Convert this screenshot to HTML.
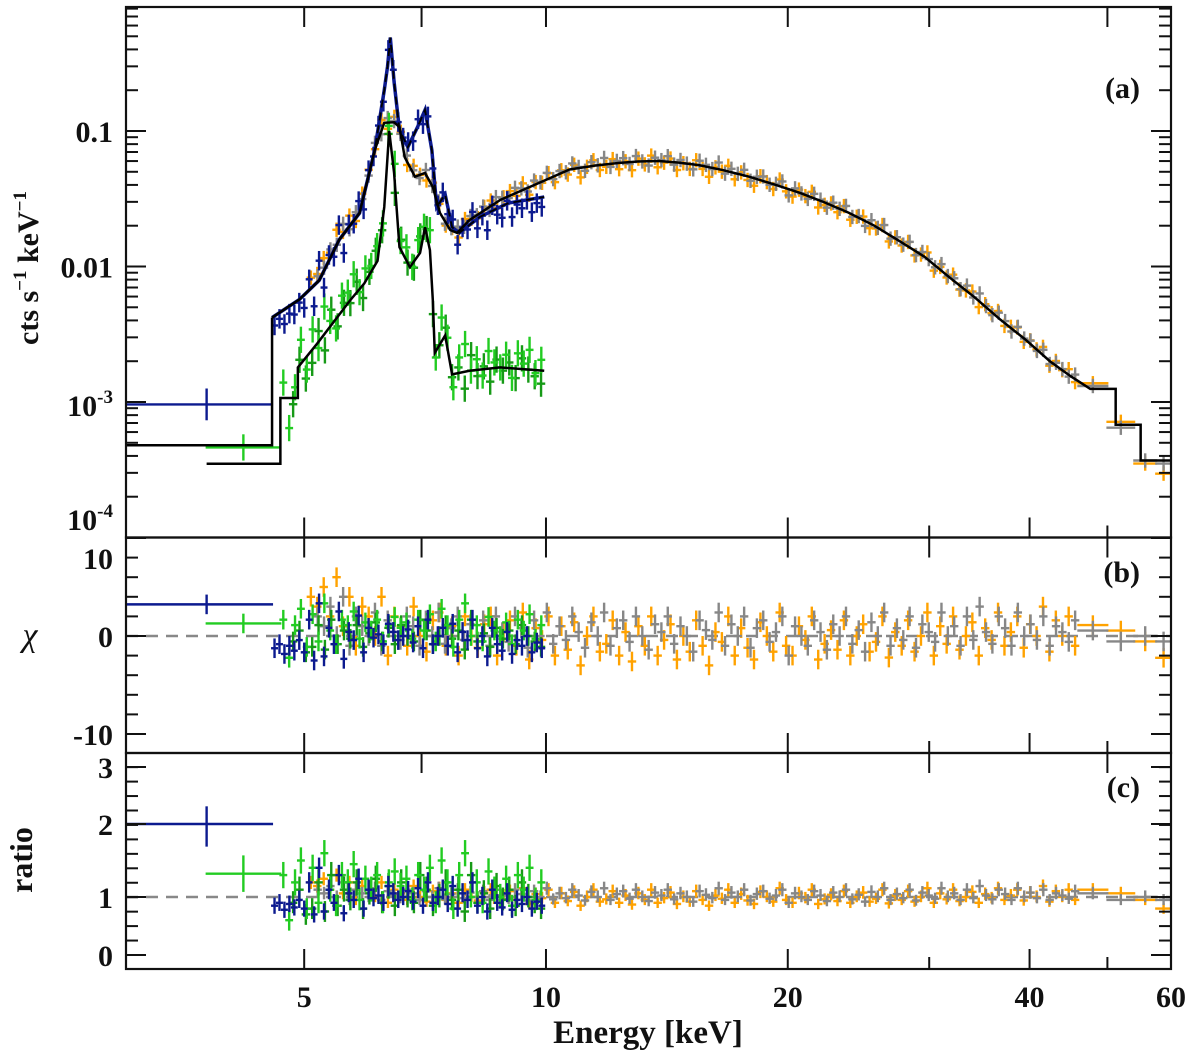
<!DOCTYPE html>
<html><head><meta charset="utf-8"><style>
html,body{margin:0;padding:0;background:#fff}
svg{display:block;font-family:"Liberation Serif","DejaVu Serif",serif;font-weight:bold}
</style></head><body>
<svg id="chart" width="1200" height="1057" viewBox="0 0 1200 1057" xmlns="http://www.w3.org/2000/svg">
<g id="layer-dash"></g>
<g id="layer-data"></g>
<g id="layer-model"></g>
<g id="layer-axes"></g>
<g fill="#111">
  <text x="648" y="1043" font-size="33" text-anchor="middle">Energy [keV]</text>
  <text transform="translate(38,268) rotate(-90)" font-size="30" text-anchor="middle">cts s<tspan font-size="19" dy="-12">−1</tspan><tspan dy="12"> keV</tspan><tspan font-size="19" dy="-12">−1</tspan></text>
  <text x="30" y="646" font-size="34" font-style="italic" font-weight="normal" text-anchor="middle">χ</text>
  <text transform="translate(32,860) rotate(-90)" font-size="32" text-anchor="middle">ratio</text>
  <text x="1140" y="98" font-size="30" text-anchor="end">(a)</text>
  <text x="1140" y="582" font-size="30" text-anchor="end">(b)</text>
  <text x="1140" y="797" font-size="30" text-anchor="end">(c)</text>
</g>
</svg>
<script>
// ---- model curves (energy keV, counts) ----
const blueModelE=[3,4.56,4.56,4.93,5.22,5.53,5.86,6.12,6.29,6.35,6.40,6.47,6.57,6.73,6.92,7.07,7.21,7.31,7.49,7.64,7.80,8.27,8.98,9.95];
const blueModelV=[4.8e-4,4.8e-4,4.2e-3,5.7e-3,7.9e-3,0.0158,0.0248,0.072,0.2,0.30,0.49,0.23,0.102,0.076,0.107,0.143,0.072,0.0275,0.034,0.0195,0.0177,0.0232,0.0294,0.0326];
const greyModelE=[4.56,4.93,5.22,5.53,5.86,6.12,6.29,6.47,6.57,6.67,6.87,7.07,7.23,7.38,7.60,7.75,8.03,8.77,9.95,10.7,11.5,12.3,13.0,13.8,14.6,15.5,16.6,17.9,19.2,20.7,22.2,23.8,25.6,27.5,29.6,31.8,34.2,36.7,39.5,42.4,45.0,47.6,51.2,51.2,55.0,55.0,60];
const greyModelV=[4.2e-3,5.7e-3,7.9e-3,0.0158,0.0248,0.072,0.115,0.116,0.107,0.064,0.046,0.049,0.0386,0.0248,0.0186,0.0177,0.022,0.031,0.043,0.052,0.0555,0.058,0.0595,0.060,0.0585,0.056,0.0515,0.046,0.0405,0.035,0.0298,0.025,0.0201,0.0155,0.0118,0.0083,0.0059,0.0041,0.0029,0.0020,0.00155,0.00125,0.00125,0.00068,0.00068,0.00037,0.00037];
const greenModelE=[3.78,4.67,4.67,4.91,4.91,5.19,5.46,5.70,5.94,6.17,6.29,6.38,6.47,6.57,6.77,6.97,7.07,7.17,7.23,7.27,7.49,7.64,8.03,8.77,9.95];
const greenModelV=[3.5e-4,3.5e-4,1.07e-3,1.07e-3,1.8e-3,2.7e-3,4.0e-3,5.6e-3,7.5e-3,0.011,0.0275,0.1,0.049,0.0139,0.0099,0.0126,0.0195,0.0132,0.0056,0.0023,0.0031,0.0016,0.0017,0.0018,0.0017];

// ---- data ratios (data/model) per bin ----
const blueFirst=[3,4.56,3.78,2.0,0.31];   // lo, hi, center, ratio, relErr
const blueRatio=[0.85,0.9,0.78,0.88,0.82,0.95,0.8,1.2,0.7,1.4,0.75,1.1,0.9,1.3,0.72,1.05,0.95,1.25,0.8,1.1,0.98,1.02,0.9,1.15,1.05,0.95,1.0,1.08,0.92,1.12,0.85,1.2,0.9,1.0,1.1,0.88,1.15,0.8,1.05,0.95,1.2,0.85,1.0,0.75,1.1,0.9,0.82,1.05,0.78,0.95,0.88,1.0,0.8,0.92,0.85];
const greenFirst=[3.78,4.67,4.2,1.32,0.25];
const greenRatio=[1.3,0.6,1.2,1.5,0.8,1.4,0.9,1.6,1.1,0.85,1.3,1.2,1.45,0.95,1.25,1.1,1.3,0.9,1.2,1.35,1.15,1.25,0.95,1.3,1.1,1.4,0.9,1.5,1.2,0.8,1.3,1.6,1.0,1.2,0.9,1.35,1.1,1.0,1.25,0.85,1.3,1.1,1.4,0.95,1.2];
const dgreenRatio=[0.9,1.1,0.7,0.8,1.2,0.75,1.3,0.85,1.1,0.95,1.2,0.8,1.05,1.25,0.9,1.15,0.85,1.2,1.0,0.9,1.3,1.1,0.85,1.0,1.2,0.95,1.1,0.75,1.3,0.9,1.05,0.8,1.15,0.95,1.1,0.85,1.2,1.0,0.9,0.8];
const orangeRatio=[1.2,1.15,1.25,1.1,1.3,1.05,1.2,0.95,1.15,1.1,1.0,1.2,0.9,1.1,1.05,0.95,1.15,1.0,0.92,1.08,1.12,0.95,1.05,0.9,1.1,1.0,0.94,1.06,1.1,0.9,1.02,1.08,0.95,1.12,0.88,1.04,0.98,1.1,0.9,1.05,0.93,1.07,0.85,1.0,1.1,0.92,0.96,1.08,0.9,1.02,0.87,1.05,0.95,1.1,0.9,0.98,1.06,0.88,1.0,0.92,1.08,0.95,0.85,1.02,0.97,1.1,0.9,1.04,0.94,0.88,1.07,1.0,0.92,1.12,0.95,0.9,1.05,0.98,1.1,0.88,0.96,1.03,0.93,1.08,0.9,1.0,1.06,0.92,0.97,1.1,0.89,1.02,0.95,1.08,0.92,1.0,1.12,0.9,1.05,0.96,1.1,0.93,1.0,1.07,0.9,1.04,0.98,1.12,0.95,1.02,1.1,0.94,1.06,1.0,1.15,0.92,1.08,1.0,1.1,0.95];
const greyRatio=[1.1,1.05,1.15,1.0,1.2,0.95,1.1,1.05,1.0,1.12,0.95,1.08,1.02,0.98,1.1,1.05,0.95,1.08,1.0,1.12,0.96,1.04,1.1,0.98,1.06,1.0,1.08,0.95,1.1,1.02,0.97,1.1,1.04,0.94,1.08,1.0,1.12,0.96,1.05,0.98,1.1,1.02,0.94,1.07,1.0,1.12,0.95,1.04,1.08,0.97,1.1,1.0,0.93,1.06,1.02,1.1,0.96,1.05,1.0,0.92,1.08,1.03,0.98,1.12,0.95,1.06,1.0,1.1,0.94,1.04,1.08,0.97,1.02,1.1,0.9,1.05,1.0,0.95,1.08,1.02,0.93,1.06,1.0,1.1,0.96,1.03,0.92,1.07,1.0,1.12,0.95,1.04,0.98,1.1,0.94,1.06,1.02,0.97,1.12,1.0,1.05,0.95,1.1,0.98,1.15,1.02,0.96,1.1,1.04,0.95,1.12,1.0,1.06,0.98,1.1,0.95,1.05,1.02,0.97,1.08];
const orangeTailEdges=[46,50,54,57.5,60];
const orangeTailRatio=[1.1,1.05,0.95,0.8];
const greyTailEdges=[46,50,54,57.5,60];
const greyTailRatio=[1.05,0.95,1.0,0.95];

// ---- tick labels ----
const xTickVals=[5,10,20,40,60];
const xTickLabels=["5","10","20","40","60"];
const xMinorTop=[5,7,10,20,30,50];
const xMinorBottom=[30,50];
const chiTickVals=[10,0,-10];
const chiTickLabels=["10","0","-10"];
const ratioTickVals=[3,2,1,0];
const ratioTickLabels=["3","2","1","0"];

const NS="http://www.w3.org/2000/svg";
const X0=126,X1=1171,EMIN=3,EMAX=60;
const PA=[7,537.5],PB=[537.5,753],PC=[753,969];
function xs(E){return X0+(X1-X0)*Math.log10(E/EMIN)/Math.log10(EMAX/EMIN);}
function ya(v){return 131-135.5*(Math.log10(v)+1);}
function yb(c){return 636-9.8*c;}
const RV=[0,1,2,3],RY=[955,897,824,767];
function yc(r){let i=r<1?0:(r<2?1:2);return RY[i]+(RY[i+1]-RY[i])*(r-RV[i]);}
function modelAt(Es,Vs,E){
  if(E<=Es[0])return Vs[0];
  for(let i=1;i<Es.length;i++){if(E<=Es[i]){if(Es[i]===Es[i-1])return Vs[i];
    const t=Math.log(E/Es[i-1])/Math.log(Es[i]/Es[i-1]);
    return Math.exp(Math.log(Vs[i-1])+t*(Math.log(Vs[i])-Math.log(Vs[i-1])));}}
  return Vs[Vs.length-1];}
function el(tag,attrs,parent){const e=document.createElementNS(NS,tag);for(const k in attrs)e.setAttribute(k,attrs[k]);parent.appendChild(e);return e;}

const gD=document.getElementById('layer-dash'),gData=document.getElementById('layer-data'),gM=document.getElementById('layer-model'),gAx=document.getElementById('layer-axes');

let d1=el('line',{x1:X0,x2:X1,y1:yb(0),y2:yb(0),stroke:'#888','stroke-width':2.5,'stroke-dasharray':'12,8'},gD);


let d2=el('line',{x1:X0,x2:X1,y1:yc(1),y2:yc(1),stroke:'#888','stroke-width':2.5,'stroke-dasharray':'12,8'},gD);



function gridBins(lo,hi,n){const b=[];const r=Math.log(hi/lo);for(let i=0;i<n;i++){const a=lo*Math.exp(r*i/n),c=lo*Math.exp(r*(i+1)/n);b.push([a,c,Math.sqrt(a*c)]);}return b;}
function drawCross(g,x1,x2,xc,yv,ylo,yhi,color){
  el('line',{x1:x1-1,x2:x2+1,y1:yv,y2:yv,stroke:color,'stroke-width':2.4},g);
  el('line',{x1:xc,x2:xc,y1:ylo,y2:yhi,stroke:color,'stroke-width':2.4},g);}
function drawSeries(name,color,bins,ratios,err,aErr,cErr,Es,Vs){
  const g=el('g',{},gData);
  
  
  bins.forEach((b,i)=>{
    const r=ratios[i];if(r===undefined)return;
    const e=b[4]!==undefined?b[4]:err;
    const ea=b[4]!==undefined?Math.max(b[4],aErr):aErr;
    const ec=b[4]!==undefined?b[4]:cErr;
    const m=modelAt(Es,Vs,b[2]);const v=m*r;
    const xa=xs(b[0]),xb=xs(b[1]),xc=xs(b[2]);
    drawCross(g,xa,xb,xc,ya(v),ya(v*(1+ea)),ya(v/(1+ea)),color);
    const chi=(r-1)/e;
    drawCross(g,xa,xb,xc,yb(chi),yb(chi-1),yb(chi+1),color);
    drawCross(g,xa,xb,xc,yc(r),yc(r-ec),yc(r+ec),color);
  });}

const oBins=gridBins(5.05,46,orangeRatio.length);
for(let i=0;i<orangeTailRatio.length;i++){const a=orangeTailEdges[i],c=orangeTailEdges[i+1];oBins.push([a,c,Math.sqrt(a*c),0,0.09]);}
drawSeries('orange','#ffa200',oBins,orangeRatio.concat(orangeTailRatio),0.05,0.13,0.09,greyModelE,greyModelV);
const gBins=gridBins(5.15,46,greyRatio.length);
for(let i=0;i<greyTailRatio.length;i++){const a=greyTailEdges[i],c=greyTailEdges[i+1];gBins.push([a,c,Math.sqrt(a*c),0,0.09]);}
drawSeries('grey','#878787',gBins,greyRatio.concat(greyTailRatio),0.05,0.13,0.09,greyModelE,greyModelV);
const dgBins=gridBins(4.8,9.95,dgreenRatio.length);
drawSeries('dark-green','#179a17',dgBins,dgreenRatio,0.18,0.25,0.18,greenModelE,greenModelV);
const grBins=[[greenFirst[0],greenFirst[1],greenFirst[2],0,greenFirst[4]]].concat(gridBins(4.67,9.95,greenRatio.length));
drawSeries('green','#22cc22',grBins,[greenFirst[3]].concat(greenRatio),0.18,0.25,0.18,greenModelE,greenModelV);
const blBins=[[blueFirst[0],blueFirst[1],blueFirst[2],0,blueFirst[4]]].concat(gridBins(4.56,9.95,blueRatio.length));
drawSeries('blue','#0c1a8f',blBins,[blueFirst[3]].concat(blueRatio),0.12,0.18,0.14,blueModelE,blueModelV);
(function(){const pts=[];for(let i=2;i<blueModelE.length;i++)pts.push(xs(blueModelE[i])+','+ya(blueModelV[i]));
  const p=el('polyline',{points:pts.join(' '),fill:'none',stroke:'#0c1a8f','stroke-width':3.5},gData);
  
  })();

function drawModel(name,Es,Vs,dash,w){
  const pts=Es.map((E,i)=>xs(E)+','+ya(Vs[i])).join(' ');
  const p=el('polyline',{points:pts,fill:'none',stroke:'#000','stroke-width':w||2.5},gM);
  if(dash)p.setAttribute('stroke-dasharray',dash);
  
  }
drawModel('grey-model-curve',greyModelE,greyModelV);
drawModel('green-model-curve',greenModelE,greenModelV);
drawModel('blue-model-low-curve',blueModelE.slice(0,3),blueModelV.slice(0,3),null,2.5);
drawModel('blue-model-curve',blueModelE.slice(2),blueModelV.slice(2),'8,5',1.8);

[[PA,'panel-a-frame'],[PB,'panel-b-frame'],[PC,'panel-c-frame']].forEach(([p,n])=>{
  const r=el('rect',{x:X0,y:p[0],width:X1-X0,height:p[1]-p[0],fill:'none',stroke:'#111','stroke-width':2.2},gAx);
  
  });
function tick(x1,y1,x2,y2){el('line',{x1:x1,y1:y1,x2:x2,y2:y2,stroke:'#111','stroke-width':2},gAx);}
[PA,PB,PC].forEach(p=>{
  xTickVals.slice(0,4).forEach(E=>{const x=xs(E);tick(x,p[1],x,p[1]-20);});
  xMinorBottom.forEach(E=>{const x=xs(E);tick(x,p[1],x,p[1]-12);});
  xMinorTop.forEach(E=>{const x=xs(E);tick(x,p[0],x,p[0]+20);});
});
xTickVals.forEach((E,i)=>{const t=el('text',{x:xs(E),y:1007,'font-size':30,'text-anchor':'middle',fill:'#111'},gAx);t.textContent=xTickLabels[i];
  
  });
for(let dec=-4;dec<=-1;dec++){for(let m=1;m<=9;m++){const v=m*Math.pow(10,dec);const y=ya(v);if(y<PA[0]||y>PA[1])continue;const L=m===1?20:12;tick(X0,y,X0+L,y);tick(X1,y,X1-L,y);}}
const aLab=[[0.1,'0.1',131],[0.01,'0.01',267]];
aLab.forEach(a=>{const t=el('text',{x:113,y:ya(a[0])+11,'font-size':30,'text-anchor':'end',fill:'#111'},gAx);t.textContent=a[1];
  
  });
[[1e-3,'-3',ya(1e-3)+14],[1e-4,'-4',530]].forEach(a=>{const t=el('text',{x:113,y:a[2],'font-size':30,'text-anchor':'end',fill:'#111'},gAx);
  t.innerHTML='10<tspan font-size="19" dy="-13">'+a[1]+'</tspan>';
  
  });
for(let c=-10;c<=10;c+=2){const y=yb(c);if(y<PB[0]||y>PB[1])continue;const L=(c%10===0)?20:12;tick(X0,y,X0+L,y);tick(X1,y,X1-L,y);}
chiTickVals.forEach((c,i)=>{const y=c===10?558:yb(c);const t=el('text',{x:113,y:y+11,'font-size':30,'text-anchor':'end',fill:'#111'},gAx);t.textContent=chiTickLabels[i];
  
  });
for(let k=0;k<=13;k++){const y=955-k*14.45;tick(X0,y,X0+12,y);tick(X1,y,X1-12,y);}
ratioTickVals.forEach((r,i)=>{const y=yc(r);tick(X0,y,X0+20,y);tick(X1,y,X1-20,y);const t=el('text',{x:113,y:y+11,'font-size':30,'text-anchor':'end',fill:'#111'},gAx);t.textContent=ratioTickLabels[i];
  
  });
</script>
</body></html>
